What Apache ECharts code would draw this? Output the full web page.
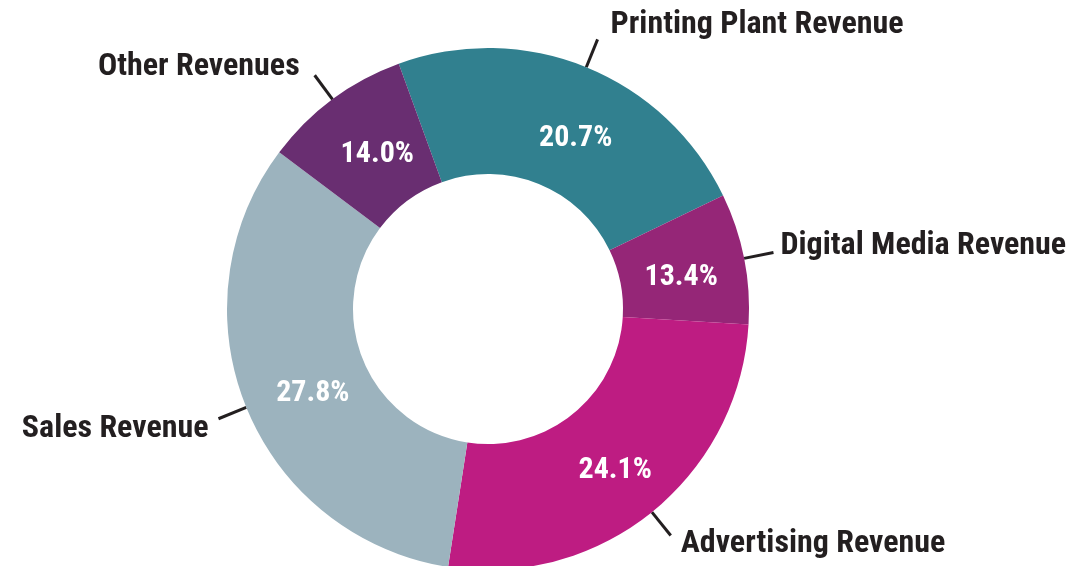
<!DOCTYPE html>
<html>
<head>
<meta charset="utf-8">
<script src="https://cdn.jsdelivr.net/npm/echarts@6/dist/echarts.min.js"></script>
<style>
  html, body { margin: 0; padding: 0; background: #ffffff; }
  #chart { width: 1084px; height: 566px; }
</style>
</head>
<body>
<div id="chart"></div>
<script>
// Categories in clockwise drawing order, starting at the top-left
const categories = ['Printing Plant Revenue', 'Digital Media Revenue', 'Advertising Revenue', 'Sales Revenue', 'Other Revenues'];
// Arc shares as drawn in the picture (percent of the ring)
const sliceValues = [23.4, 8.1, 26.5, 32.8, 9.2];
// Percentages printed on the slices
const printedLabels = ['20.7%', '13.4%', '24.1%', '27.8%', '14.0%'];

const colors = ['#31808F', '#952677', '#BE1C82', '#9CB3BE', '#692E71'];
const FONT = "'Roboto Condensed', 'DejaVu Sans Condensed', sans-serif";

// label nudges [dx, dy] in px relative to ECharts' default spot
const innerNudge = {
  'Printing Plant Revenue': [12, 16],
  'Digital Media Revenue': [-4, 7],
  'Advertising Revenue': [1, 5],
  'Sales Revenue': [11, 9],
  'Other Revenues': [9, 7]
};
const outerNudge = {
  'Printing Plant Revenue': [6, -14],
  'Digital Media Revenue': [0, -7],
  'Advertising Revenue': [3, 9],
  'Sales Revenue': [3, 10],
  'Other Revenues': [8, -8]
};

// Build a rich-text label that is shifted by [dx, dy]
function nudged(text, nudge, side) {
  const dx = nudge[0], dy = nudge[1];
  let pad;
  if (side === 'center') pad = dx >= 0 ? [0, 0, 0, 2 * dx] : [0, -2 * dx, 0, 0];
  else if (side === 'left') pad = [0, 0, 0, dx];
  else pad = [0, dx, 0, 0];
  const gapLH = Math.max(2 * Math.abs(dy), 1);
  let fmt;
  if (dy < 0) fmt = '{t|' + text + '}\n{g| }';
  else if (dy > 0) fmt = '{g| }\n{t|' + text + '}';
  else fmt = '{t|' + text + '}';
  return { fmt: fmt, pad: pad, gapLH: gapLH };
}

const innerData = categories.map((c, i) => {
  const n = nudged(printedLabels[i], innerNudge[c], 'center');
  return {
    name: c,
    value: sliceValues[i],
    itemStyle: { color: colors[i] },
    label: {
      formatter: n.fmt,
      rich: {
        t: { color: '#ffffff', fontFamily: FONT, fontWeight: 'bold', fontSize: 30, padding: n.pad, align: 'center' },
        g: { fontSize: 1, lineHeight: n.gapLH }
      }
    }
  };
});
const outerData = categories.map((c, i) => {
  // right side: first three, left side: last two
  const side = i < 3 ? 'left' : 'right';
  const n = nudged(c, outerNudge[c], side);
  return {
    name: c,
    value: sliceValues[i],
    label: {
      formatter: n.fmt,
      rich: {
        t: { color: '#231F20', fontFamily: FONT, fontWeight: 'bold', fontSize: 32, padding: n.pad },
        g: { fontSize: 1, lineHeight: n.gapLH }
      }
    }
  };
});

const common = {
  type: 'pie',
  center: [488, 309],
  radius: [135, 261],
  startAngle: 110,
  clockwise: true,
  avoidLabelOverlap: false,
  animation: false,
  emphasis: { disabled: true },
  silent: true
};

const chart = echarts.init(document.getElementById('chart'), null, { renderer: 'canvas' });
chart.setOption({
  backgroundColor: '#ffffff',
  animation: false,
  series: [
    Object.assign({}, common, {
      name: 'slices',
      data: innerData,
      itemStyle: { borderWidth: 0 },
      label: {
        show: true,
        position: 'inside',
        color: '#ffffff',
        fontFamily: FONT,
        fontWeight: 'bold',
        fontSize: 30
      },
      labelLine: { show: false }
    }),
    Object.assign({}, common, {
      name: 'names',
      data: outerData,
      itemStyle: { color: 'rgba(0,0,0,0)', borderWidth: 0 },
      label: {
        show: true,
        position: 'outside',
        color: '#231F20',
        fontFamily: FONT,
        fontWeight: 'bold',
        fontSize: 32,
        distanceToLabelLine: 7,
        bleedMargin: 0
      },
      labelLine: {
        show: true,
        length: 30,
        length2: 0,
        lineStyle: { color: '#231F20', width: 3 }
      }
    })
  ]
});
</script>
</body>
</html>
